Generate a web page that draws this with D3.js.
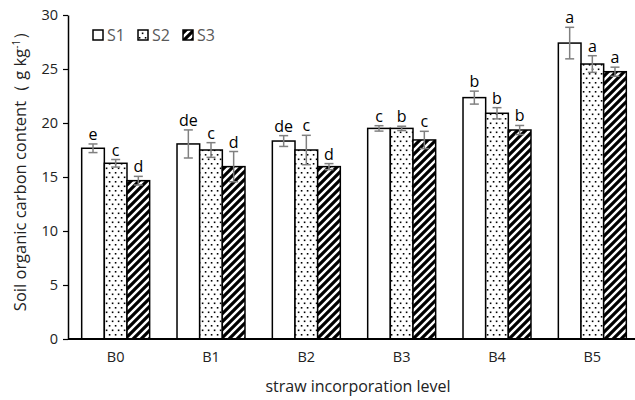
<!DOCTYPE html>
<html><head><meta charset="utf-8">
<script src="https://cdn.jsdelivr.net/npm/d3@7/dist/d3.min.js"></script>
<style>body{margin:0;background:#fff;}svg{display:block;font-family:"Open Sans",sans-serif;}</style>
</head><body>
<svg id="c" width="635" height="400"></svg>
<script>
const categories = ["B0","B1","B2","B3","B4","B5"];
const series = ["S1","S2","S3"];
const S1 = [17.66, 18.06, 18.33, 19.5, 22.35, 27.4];
const S2 = [16.27, 17.5, 17.5, 19.5, 20.9, 25.46];
const S3 = [14.66, 15.96, 15.96, 18.43, 19.35, 24.75];
const S1err = [0.4, 1.3, 0.5, 0.25, 0.6, 1.46];
const S2err = [0.35, 0.68, 1.36, 0.2, 0.52, 0.77];
const S3err = [0.4, 1.4, 0.28, 0.8, 0.42, 0.42];
const S1sig = ["e","de","de","c","b","a"];
const S2sig = ["c","c","c","b","b","a"];
const S3sig = ["d","d","d","c","b","a"];
const yTicks = [0,5,10,15,20,25,30];

const vals = [S1,S2,S3], errs=[S1err,S2err,S3err], sigs=[S1sig,S2sig,S3sig];
const svg = d3.select("#c");
const defs = svg.append("defs");
// dots pattern
const pd = defs.append("pattern").attr("id","dots").attr("patternUnits","userSpaceOnUse").attr("width",6).attr("height",9);
pd.append("rect").attr("width",6).attr("height",9).attr("fill","#fff");
pd.append("rect").attr("x",0.8).attr("y",1).attr("width",1.6).attr("height",1.6).attr("fill","#000");
pd.append("rect").attr("x",3.8).attr("y",5.5).attr("width",1.6).attr("height",1.6).attr("fill","#000");
// hatch pattern
const ph = defs.append("pattern").attr("id","hatch").attr("patternUnits","userSpaceOnUse").attr("width",8).attr("height",8);
ph.append("rect").attr("width",8).attr("height",8).attr("fill","#fff");
ph.append("path").attr("d","M-2,2 L2,-2 M0,8 L8,0 M6,10 L10,6").attr("stroke","#000").attr("stroke-width",3.2);
const fills = ["#fff","url(#dots)","url(#hatch)"];

const x = d3.scaleBand().domain(categories).range([68,640]).paddingInner(0.287).paddingOuter(0.1435);
const xs = d3.scaleBand().domain(series).range([0,x.bandwidth()]).padding(0);
const y = d3.scaleLinear().domain([0,30]).range([339,15]);

// bars
series.forEach((s,si)=>{
  const g = svg.append("g");
  categories.forEach((c,ci)=>{
    const v = vals[si][ci], e = errs[si][ci];
    const bx = x(c)+xs(s), bw = xs.bandwidth();
    g.append("rect").attr("x",bx).attr("y",y(v)).attr("width",bw).attr("height",y(0)-y(v))
      .attr("fill",fills[si]).attr("stroke","#000").attr("stroke-width",1.5);
    const cx = bx+bw/2;
    g.append("line").attr("x1",cx).attr("x2",cx).attr("y1",y(v+e)).attr("y2",y(v-e)).attr("stroke","#808080").attr("stroke-width",1.5);
    [v+e,v-e].forEach(t=>g.append("line").attr("x1",cx-4.5).attr("x2",cx+4.5).attr("y1",y(t)).attr("y2",y(t)).attr("stroke","#808080").attr("stroke-width",1.5));
    g.append("text").attr("x",cx).attr("y",y(v+e)-4).attr("text-anchor","middle").attr("font-size",16).attr("fill","#000").text(sigs[si][ci]);
  });
});

// y axis
const ya = svg.append("g").attr("transform","translate(68,0)")
  .call(d3.axisLeft(y).tickValues(yTicks).tickSize(5).tickPadding(5).tickSizeOuter(0));
ya.select(".domain").attr("stroke","#000").attr("stroke-width",1.5);
ya.selectAll(".tick line").attr("stroke","#000").attr("stroke-width",1.2);
ya.selectAll(".tick text").attr("font-size",14.5).attr("fill","#222").attr("font-family","Open Sans, sans-serif");

// x axis
const xa = svg.append("g").attr("transform","translate(0,339)")
  .call(d3.axisBottom(x).tickSize(0).tickPadding(13));
xa.select(".domain").attr("d","M68,0H635").attr("stroke","#000").attr("stroke-width",2.2);
xa.selectAll(".tick text").attr("font-size",14.5).attr("fill","#222").attr("font-family","Open Sans, sans-serif");

// axis titles
svg.append("text").attr("x",358).attr("y",392).attr("text-anchor","middle").attr("font-size",16).attr("fill","#222").text("straw incorporation level");
const yt = svg.append("text").attr("transform","translate(26,167) rotate(-90)").attr("text-anchor","middle").attr("font-size",16.5).attr("fill","#222");
yt.append("tspan").text("Soil organic carbon content\uFF08 g kg");
yt.append("tspan").attr("font-size",10).attr("dy",-6).text("-1");
yt.append("tspan").attr("dy",6).text("\uFF09");

// legend
const lx = [93,138,183];
series.forEach((s,si)=>{
  svg.append("rect").attr("x",lx[si]).attr("y",30).attr("width",10).attr("height",10).attr("fill",fills[si]).attr("stroke","#000").attr("stroke-width",1.5);
  svg.append("text").attr("x",lx[si]+14).attr("y",41).attr("font-size",16).attr("fill","#595959").text(s);
});
</script>
</body></html>
